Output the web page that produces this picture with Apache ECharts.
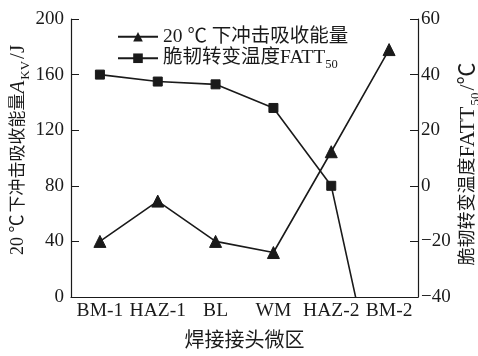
<!DOCTYPE html>
<html>
<head>
<meta charset="utf-8">
<script src="https://cdn.jsdelivr.net/npm/echarts@6/dist/echarts.min.js"></script>
<style>
  html, body { margin: 0; padding: 0; background: #fff; }
  #chart { width: 478px; height: 356px; }
</style>
</head>
<body>
<div id="chart"></div>
<script>
// Weld joint zones along the x axis
const zones = ['BM-1', 'HAZ-1', 'BL', 'WM', 'HAZ-2', 'BM-2'];
// Impact absorbed energy at 20 °C, A_KV in J (left axis)
const impactEnergy = [40, 69, 40, 32, 104.5, 178];
// Ductile-brittle transition temperature FATT50 in °C (right axis)
const fatt50 = [40, 37.5, 36.5, 28, 0, -95];

const FONT = '"Liberation Serif", "Noto Sans CJK SC", serif';
const INK = '#1a1a1a';

const chart = echarts.init(document.getElementById('chart'), null, { renderer: 'canvas' });

// Rich text pieces: subscripts, italic symbol, mixed CJK / Latin sizes
const rich = {
  sub: { fontSize: 13, fontFamily: FONT, color: INK, verticalAlign: 'bottom', padding: [0, 2, -3, 1] },
  lsub: { fontSize: 12.5, fontFamily: FONT, color: INK, verticalAlign: 'bottom', padding: [0, 0, -3, 0] },
  it: { fontSize: 21, fontFamily: FONT, fontStyle: 'italic', color: INK },
  cj: { fontSize: 17, fontFamily: FONT, color: INK },
  cj2: { fontSize: 18, fontFamily: FONT, color: INK },
  num: { fontSize: 18, fontFamily: FONT, color: INK, padding: [0, 2, 0, 0] },
  lat: { fontSize: 21, fontFamily: FONT, color: INK },
  lat2: { fontSize: 22, fontFamily: FONT, color: INK }
};

chart.setOption({
  animation: false,
  backgroundColor: '#fff',
  textStyle: { fontFamily: FONT, color: INK },
  grid: { left: 71, right: 60, top: 19, bottom: 59, containLabel: false, outerBoundsMode: 'none' },
  legend: {
    orient: 'vertical',
    left: 112,
    top: 22,
    itemWidth: 40,
    itemHeight: 12,
    itemGap: 2,
    textStyle: { fontFamily: FONT, fontSize: 19.5, color: INK, rich: rich },
    formatter: function (name) {
      if (name.indexOf('FATT') >= 0) return '脆韧转变温度FATT{lsub|50}';
      return name;
    },
    data: ['20 ℃ 下冲击吸收能量', '脆韧转变温度FATT50']
  },
  xAxis: {
    type: 'category',
    data: zones,
    boundaryGap: true,
    name: '焊接接头微区',
    nameLocation: 'middle',
    nameGap: 35,
    nameMoveOverlap: false,
    nameTextStyle: { fontFamily: FONT, fontSize: 20, color: INK },
    axisLine: { lineStyle: { color: INK, width: 1.2 } },
    axisTick: { inside: true, length: 9, alignWithLabel: true, lineStyle: { color: INK } },
    axisLabel: { fontFamily: FONT, fontSize: 19.5, color: INK, margin: 4, interval: 0 },
    splitLine: { show: false }
  },
  yAxis: [
    {
      type: 'value',
      min: 0, max: 200, interval: 40,
      position: 'left',
      name: '{num|20 ℃}{cj|下冲击吸收能量}{it|A}{sub|KV}{lat|/J}',
      nameLocation: 'middle',
      nameGap: 42,
      nameMoveOverlap: false,
      nameRotate: 90,
      nameTextStyle: { fontFamily: FONT, fontSize: 18, color: INK, rich: rich, padding: [0, 0, 0, 16] },
      axisLine: { show: true, lineStyle: { color: INK, width: 1.2 } },
      axisTick: { show: true, inside: true, length: 8, lineStyle: { color: INK } },
      axisLabel: { fontFamily: FONT, fontSize: 19, color: INK, margin: 7 },
      splitLine: { show: false }
    },
    {
      type: 'value',
      min: -40, max: 60, interval: 20,
      position: 'right',
      name: '{cj2|脆韧转变温度}{lat2|FATT}{sub|50}{lat2|/℃}',
      nameLocation: 'middle',
      nameGap: 39,
      nameMoveOverlap: false,
      nameRotate: 90,
      nameTextStyle: { fontFamily: FONT, fontSize: 18, color: INK, rich: rich, padding: [0, 12, 0, 0] },
      axisLine: { show: true, lineStyle: { color: INK, width: 1.2 } },
      axisTick: { show: true, inside: true, length: 8, lineStyle: { color: INK } },
      axisLabel: {
        fontFamily: FONT, fontSize: 19, color: INK, margin: 3,
        formatter: function (v) { return String(v).replace('-', '\u2212'); }
      },
      splitLine: { show: false }
    }
  ],
  series: [
    {
      name: '20 ℃ 下冲击吸收能量',
      type: 'line',
      yAxisIndex: 0,
      data: impactEnergy,
      symbol: 'triangle',
      symbolSize: 12,
      clip: true,
      lineStyle: { color: INK, width: 1.6 },
      itemStyle: { color: INK, borderColor: INK }
    },
    {
      name: '脆韧转变温度FATT50',
      type: 'line',
      yAxisIndex: 1,
      data: fatt50,
      symbol: 'rect',
      symbolSize: 9,
      clip: true,
      lineStyle: { color: INK, width: 1.6 },
      itemStyle: { color: INK, borderColor: INK }
    }
  ]
});
</script>
</body>
</html>
